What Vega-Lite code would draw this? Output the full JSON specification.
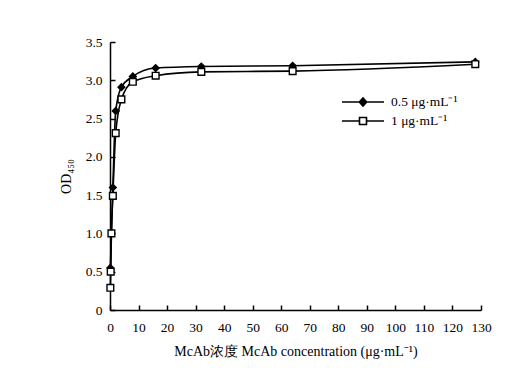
{
  "$schema": "https://vega.github.io/schema/vega-lite/v6.json",
  "autosize": "none",
  "width": 371,
  "height": 268,
  "padding": {"left": 110, "top": 42, "right": 51, "bottom": 78},
  "background": "white",
  "config": {
    "view": {"stroke": null},
    "font": "Liberation Serif",
    "axis": {
      "grid": false,
      "domainColor": "black",
      "domainWidth": 1.5,
      "tickColor": "black",
      "tickWidth": 1.5,
      "tickSize": -5,
      "labelFont": "Liberation Serif",
      "labelFontSize": 13.5,
      "labelColor": "black",
      "titleFont": "Liberation Serif",
      "titleFontSize": 14,
      "titleFontWeight": "normal",
      "titleColor": "black"
    },
    "legend": {
      "title": null,
      "padding": 0,
      "symbolSize": 400,
      "symbolStrokeWidth": 1.6,
      "labelFont": "Liberation Serif",
      "labelFontSize": 13.5,
      "labelColor": "black",
      "labelOffset": 17,
      "rowPadding": 0
    }
  },
  "data": {
    "values": [
      {"series": "0.5 μg·mL⁻¹", "conc": 0.125, "od": 0.55},
      {"series": "0.5 μg·mL⁻¹", "conc": 1, "od": 1.6},
      {"series": "0.5 μg·mL⁻¹", "conc": 2, "od": 2.6},
      {"series": "0.5 μg·mL⁻¹", "conc": 4, "od": 2.91},
      {"series": "0.5 μg·mL⁻¹", "conc": 8, "od": 3.05},
      {"series": "0.5 μg·mL⁻¹", "conc": 16, "od": 3.16},
      {"series": "0.5 μg·mL⁻¹", "conc": 32, "od": 3.18},
      {"series": "0.5 μg·mL⁻¹", "conc": 64, "od": 3.19},
      {"series": "0.5 μg·mL⁻¹", "conc": 128, "od": 3.24},
      {"series": "1 μg·mL⁻¹", "conc": 0.125, "od": 0.29},
      {"series": "1 μg·mL⁻¹", "conc": 0.25, "od": 0.5},
      {"series": "1 μg·mL⁻¹", "conc": 0.5, "od": 1.0},
      {"series": "1 μg·mL⁻¹", "conc": 1, "od": 1.49},
      {"series": "1 μg·mL⁻¹", "conc": 2, "od": 2.31},
      {"series": "1 μg·mL⁻¹", "conc": 4, "od": 2.75},
      {"series": "1 μg·mL⁻¹", "conc": 8, "od": 2.98},
      {"series": "1 μg·mL⁻¹", "conc": 16, "od": 3.06},
      {"series": "1 μg·mL⁻¹", "conc": 32, "od": 3.11},
      {"series": "1 μg·mL⁻¹", "conc": 64, "od": 3.12},
      {"series": "1 μg·mL⁻¹", "conc": 128, "od": 3.21}
    ]
  },
  "encoding": {
    "x": {
      "field": "conc",
      "type": "quantitative",
      "scale": {"domain": [0, 130], "nice": false},
      "axis": {
        "title": "McAb浓度 McAb concentration (μg·mL⁻¹)",
        "values": [0, 10, 20, 30, 40, 50, 60, 70, 80, 90, 100, 110, 120, 130],
        "labelPadding": 15,
        "titlePadding": 11,
        "labelFlush": false
      }
    },
    "y": {
      "field": "od",
      "type": "quantitative",
      "scale": {"domain": [0, 3.5], "nice": false},
      "axis": {
        "title": "OD₄₅₀",
        "values": [0, 0.5, 1, 1.5, 2, 2.5, 3, 3.5],
        "labelExpr": "datum.value === 0 ? '0' : format(datum.value, '.1f')",
        "labelPadding": 13,
        "titlePadding": 12,
        "labelFlush": false
      }
    }
  },
  "resolve": {"scale": {"shape": "independent", "fill": "independent", "stroke": "independent"}},
  "layer": [
    {
      "mark": {"type": "line", "interpolate": "monotone", "color": "black", "strokeWidth": 1.6},
      "encoding": {"detail": {"field": "series"}}
    },
    {
      "mark": {"type": "point", "filled": true, "stroke": "black", "strokeWidth": 1.4, "opacity": 1},
      "encoding": {
        "shape": {
          "field": "series",
          "type": "nominal",
          "scale": {"domain": ["0.5 μg·mL⁻¹", "1 μg·mL⁻¹"], "range": ["diamond", "square"]},
          "legend": null
        },
        "fill": {
          "field": "series",
          "type": "nominal",
          "scale": {"domain": ["0.5 μg·mL⁻¹", "1 μg·mL⁻¹"], "range": ["black", "white"]},
          "legend": null
        },
        "size": {"value": 45}
      }
    },
    {
      "transform": [{"filter": "datum.conc < 0"}],
      "mark": {"type": "point", "filled": true, "strokeWidth": 1.6, "opacity": 1},
      "encoding": {
        "shape": {
          "field": "series",
          "type": "nominal",
          "scale": {
            "domain": ["0.5 μg·mL⁻¹", "1 μg·mL⁻¹"],
            "range": ["M-2.1,0H2.1M-0.37,0L0,-0.4L0.37,0L0,0.4Z", "M-2.1,0H-0.35M0.35,0H2.1M-0.35,-0.35H0.35V0.35H-0.35Z"]
          },
          "legend": {"orient": "none", "legendX": 242, "legendY": 49}
        },
        "fill": {
          "field": "series",
          "type": "nominal",
          "scale": {"domain": ["0.5 μg·mL⁻¹", "1 μg·mL⁻¹"], "range": ["black", "white"]},
          "legend": {"orient": "none", "legendX": 242, "legendY": 49}
        },
        "stroke": {
          "field": "series",
          "type": "nominal",
          "scale": {"domain": ["0.5 μg·mL⁻¹", "1 μg·mL⁻¹"], "range": ["black", "black"]},
          "legend": {"orient": "none", "legendX": 242, "legendY": 49}
        },
        "size": {"value": 400}
      }
    }
  ]
}
